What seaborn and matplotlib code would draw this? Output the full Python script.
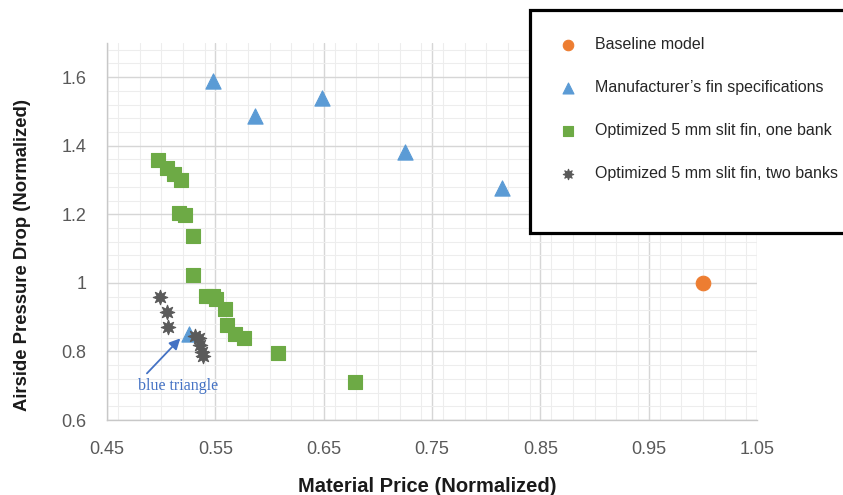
import pandas as pd
import numpy as np
import matplotlib
matplotlib.use("Agg")
import matplotlib.pyplot as plt
import seaborn as sns
from matplotlib.ticker import MultipleLocator
from matplotlib.patches import Rectangle

# ==========================================
# Data
# ==========================================
baseline_x = [1.0]
baseline_y = [1.0]

manuf_x = [0.548, 0.587, 0.648, 0.725, 0.815, 0.526]
manuf_y = [1.590, 1.487, 1.539, 1.383, 1.278, 0.852]

one_bank_x = [0.497, 0.505, 0.512, 0.518, 0.516, 0.522, 0.529, 0.529,
              0.541, 0.548, 0.551, 0.559, 0.561, 0.568, 0.576, 0.608, 0.679]
one_bank_y = [1.357, 1.335, 1.318, 1.300, 1.205, 1.197, 1.137, 1.023,
              0.963, 0.961, 0.952, 0.925, 0.878, 0.852, 0.840, 0.796, 0.710]

two_banks_x = [0.499, 0.505, 0.506, 0.531, 0.535, 0.536, 0.538, 0.539]
two_banks_y = [0.959, 0.915, 0.870, 0.845, 0.838, 0.818, 0.799, 0.786]

series_names = ["Baseline model",
                "Manufacturer\u2019s fin specifications",
                "Optimized 5 mm slit fin, one bank",
                "Optimized 5 mm slit fin, two banks"]

x_ticks = [0.45, 0.55, 0.65, 0.75, 0.85, 0.95, 1.05]
y_ticks = [0.6, 0.8, 1.0, 1.2, 1.4, 1.6]
y_tick_labels = ["0.6", "0.8", "1", "1.2", "1.4", "1.6"]

# build one long table for seaborn
frames = []
for name, xs, ys in zip(series_names,
                        [baseline_x, manuf_x, one_bank_x, two_banks_x],
                        [baseline_y, manuf_y, one_bank_y, two_banks_y]):
    frames.append(pd.DataFrame({"price": xs, "drop": ys, "series": name}))
df = pd.concat(frames, ignore_index=True)

# ==========================================
# Plot
# ==========================================
sns.set_theme(style="white")
plt.rcParams['font.family'] = ['Liberation Sans', 'DejaVu Sans']

palette = {series_names[0]: "#ED7D31",
           series_names[1]: "#5B9BD5",
           series_names[2]: "#6DAA45",
           series_names[3]: "#5a5a5a"}
markers = {series_names[0]: "o",
           series_names[1]: "^",
           series_names[2]: "s",
           series_names[3]: (8, 1, 0)}
sizes = {series_names[0]: 110, series_names[1]: 120,
         series_names[2]: 115, series_names[3]: 110}

fig = plt.figure(figsize=(8.43, 4.95), dpi=100)
ax = fig.add_axes([0.127, 0.1515, 0.771, 0.762])

for name in series_names:
    sub = df[df["series"] == name]
    sns.scatterplot(data=sub, x="price", y="drop", ax=ax,
                    color=palette[name], marker=markers[name],
                    s=sizes[name], edgecolor=palette[name], linewidth=0.8,
                    label=name, zorder=3)

ax.set_xlim(0.45, 1.05)
ax.set_ylim(0.6, 1.7)
ax.set_xticks(x_ticks)
ax.set_xticklabels([f"{v:.2f}" for v in x_ticks])
ax.set_yticks(y_ticks)
ax.set_yticklabels(y_tick_labels)
ax.xaxis.set_minor_locator(MultipleLocator(0.02))
ax.yaxis.set_minor_locator(MultipleLocator(0.04))

ax.grid(which="major", color="#d6d6d6", linewidth=1.0, zorder=0)
ax.grid(which="minor", color="#ededed", linewidth=0.8, zorder=0)
ax.set_axisbelow(True)

for side in ["top", "right"]:
    ax.spines[side].set_visible(False)
for side in ["left", "bottom"]:
    ax.spines[side].set_color("#c8c8c8")
    ax.spines[side].set_linewidth(1.0)

ax.tick_params(axis="both", which="major", labelsize=13, colors="#595959",
               length=5, width=1, color="#c8c8c8")
ax.tick_params(axis="y", which="major", pad=10)
ax.tick_params(axis="x", which="major", pad=10)
ax.tick_params(axis="both", which="minor", length=0)

ax.set_xlabel("")
ax.set_ylabel("")
fig.text(427 / 843, 1 - 487 / 495, "Material Price (Normalized)",
         ha="center", va="center", fontsize=14.5, fontweight="bold",
         color="#1a1a1a")
fig.text(23 / 843, 1 - 255 / 495, "Airside Pressure Drop (Normalized)",
         ha="center", va="center", rotation=90, fontsize=13.3,
         fontweight="bold", color="#1a1a1a")

# annotation pointing at the hidden triangle
ax.annotate("", xy=(0.5176, 0.838), xytext=(0.4868, 0.736),
            arrowprops=dict(arrowstyle="-|>", color="#4472C4", lw=1.3,
                            shrinkA=0, shrinkB=0, mutation_scale=16))
ax.text(0.5157, 0.698, "blue triangle", ha="center", va="center",
        fontsize=11.5, color="#4472C4",
        family=["Liberation Serif", "DejaVu Serif"])

# legend: frameless entries inside a drawn box at top right
handles, labels = ax.get_legend_handles_labels()
ax.get_legend().remove()
fig.patches.append(Rectangle((530 / 843, 1 - 233 / 495), 330 / 843, 223 / 495,
                             transform=fig.transFigure, facecolor="white",
                             edgecolor="black", linewidth=2.3, zorder=5))
leg = fig.legend(handles, labels, loc="upper left",
                 bbox_to_anchor=(552 / 843, 1 - 37 / 495),
                 frameon=False, fontsize=11.5,
                 labelspacing=1.75, borderpad=0, handletextpad=0.7,
                 borderaxespad=0, markerscale=0.72)
leg.set_zorder(6)
for t in leg.get_texts():
    t.set_color("#262626")

fig.savefig("out.png", dpi=100)
